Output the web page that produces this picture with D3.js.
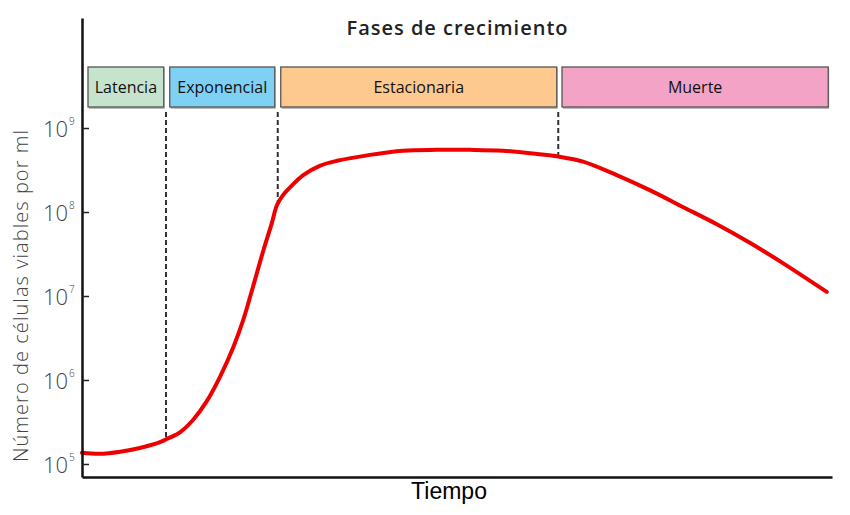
<!DOCTYPE html>
<html lang="es">
<head>
    <meta charset="UTF-8">
    <title>Fases de crecimiento</title>
    <style>
        body{ margin:0; background:#fff; }
        svg{ display:block; }
        .lbl{ font-family: "Open Sans", Lato, sans-serif; }
    </style>
    <script src="https://cdn.jsdelivr.net/npm/d3@7"></script>
</head>
<body>
<script>
    // curve: time (arbitrary units) and viable cells per ml
    const timePoints = [0, 2.4, 5.1, 7.7, 10.4, 11.3, 13.1, 14.8, 16.6, 18.4, 20.2, 21.5, 22.8, 24.2, 25.3, 26.0, 26.8,
        27.7, 29.5, 31.7, 34, 38.4, 42.8, 47.3, 51.7, 56.1, 60.7, 63.5, 66.8, 71.3, 75.7, 80.1, 84.7, 89.1, 93.5, 99.3]
    const cellCounts = [1.36e5, 1.32e5, 1.40e5, 1.55e5, 1.82e5, 1.98e5, 2.4e5, 3.34e5, 5.52e5, 1.09e6, 2.49e6, 5.18e6, 1.29e7, 3.53e7, 7.33e7, 1.21e8, 1.59e8,
        1.95e8, 2.75e8, 3.55e8, 4.07e8, 4.79e8, 5.37e8, 5.5e8, 5.5e8, 5.37e8, 4.9e8, 4.57e8, 3.98e8, 2.75e8, 1.82e8, 1.15e8, 7.1e7, 4.27e7, 2.45e7, 1.12e7]

    // growth phases
    const phaseNames = ["Latencia", "Exponencial", "Estacionaria", "Muerte"]
    const phaseColors = ["#c5e3cd", "#7fd0f5", "#fec98f", "#f3a3c6"]
    const phaseStart = [0.8, 11.7, 26.5, 64.0]
    const phaseEnd = [10.9, 25.7, 63.3, 99.5]
    const boundaryTimes = [11.2, 26.1, 63.5]
    const boundaryCells = [2.0e5, 1.3e8, 4.57e8]

    const yTickExps = [5, 6, 7, 8, 9]

    const width = 850
    const height = 515
    let svg = d3.select("body").append("svg")
        .attr("width", width).attr("height", height)

    const x = d3.scaleLinear().domain([0, 100]).range([82, 832])
    const y = d3.scaleLog().domain([Math.pow(10, 4.845), Math.pow(10, 10.31)]).range([477, 18])

    // title
    svg.append("text").attr("class", "lbl")
        .attr("x", 457).attr("y", 35)
        .attr("text-anchor", "middle")
        .attr("font-size", 20).attr("font-weight", 600)
        .attr("textLength", 221).attr("lengthAdjust", "spacing")
        .attr("fill", "#222")
        .text("Fases de crecimiento")

    // phase boxes
    let gPhase = svg.append("g")
    phaseNames.forEach((name, i) => {
        gPhase.append("rect")
            .attr("x", x(phaseStart[i]) + 1).attr("y", 68)
            .attr("width", x(phaseEnd[i]) - x(phaseStart[i])).attr("height", 41)
            .attr("fill", "#bbb")
        gPhase.append("rect")
            .attr("x", x(phaseStart[i])).attr("y", 67)
            .attr("width", x(phaseEnd[i]) - x(phaseStart[i])).attr("height", 40)
            .attr("fill", phaseColors[i])
            .attr("stroke", "#555").attr("stroke-width", 1.3)
        gPhase.append("text").attr("class", "lbl")
            .attr("x", (x(phaseStart[i]) + x(phaseEnd[i])) / 2).attr("y", 93)
            .attr("text-anchor", "middle")
            .attr("font-size", 16)
            .attr("fill", "#111")
            .text(name)
    })

    // dashed phase boundaries
    svg.selectAll(".bound")
        .data(boundaryTimes)
        .enter()
        .append("line")
        .attr("x1", d => x(d)).attr("x2", d => x(d))
        .attr("y1", 112)
        .attr("y2", (d, i) => y(boundaryCells[i]))
        .attr("stroke", "#333").attr("stroke-width", 2)
        .attr("stroke-dasharray", "5,3")

    // growth curve
    const pts = timePoints.map((t, i) => [t, cellCounts[i]])
    svg.append("path")
        .datum(pts)
        .attr("fill", "none")
        .attr("stroke", "#ee0000")
        .attr("stroke-width", 4)
        .attr("stroke-linecap", "round")
        .attr("d", d3.line().x(d => x(d[0])).y(d => y(d[1])).curve(d3.curveCatmullRom.alpha(0.5)))

    // axes
    let gY = svg.append("g").attr("transform", "translate(82,0)")
        .call(d3.axisLeft(y)
            .tickValues(yTickExps.map(e => Math.pow(10, e)))
            .tickSizeInner(-7).tickSizeOuter(0)
            .tickFormat(""))
    gY.select(".domain").attr("stroke", "#111").attr("stroke-width", 2.5)
    gY.selectAll(".tick line").attr("stroke", "#222").attr("stroke-width", 1.5)

    let gX = svg.append("g").attr("transform", "translate(0,477)")
        .call(d3.axisBottom(x).tickValues([]).tickSizeOuter(0))
    gX.select(".domain").attr("stroke", "#111").attr("stroke-width", 2.5)

    // y tick labels with superscript exponent
    yTickExps.forEach(e => {
        svg.append("text").attr("class", "lbl")
            .attr("x", 68).attr("y", y(Math.pow(10, e)) + 9)
            .attr("text-anchor", "end")
            .attr("font-size", 22).attr("font-weight", 300)
            .attr("fill", "#444")
            .text("10")
        svg.append("text").attr("class", "lbl")
            .attr("x", 69).attr("y", y(Math.pow(10, e)) - 3)
            .attr("font-size", 10).attr("font-weight", 300)
            .attr("fill", "#444")
            .text(e)
    })

    // axis titles
    svg.append("text").attr("class", "lbl")
        .attr("transform", "translate(28,296) rotate(-90)")
        .attr("text-anchor", "middle")
        .attr("font-size", 20).attr("font-weight", 300)
        .attr("textLength", 332).attr("lengthAdjust", "spacing")
        .attr("fill", "#444")
        .text("Número de células viables por ml")

    svg.append("text")
        .attr("x", 449).attr("y", 499)
        .attr("text-anchor", "middle")
        .attr("font-family", "Liberation Sans, Arial, sans-serif")
        .attr("font-size", 23)
        .attr("fill", "#000")
        .text("Tiempo")
</script>
</body>
</html>
